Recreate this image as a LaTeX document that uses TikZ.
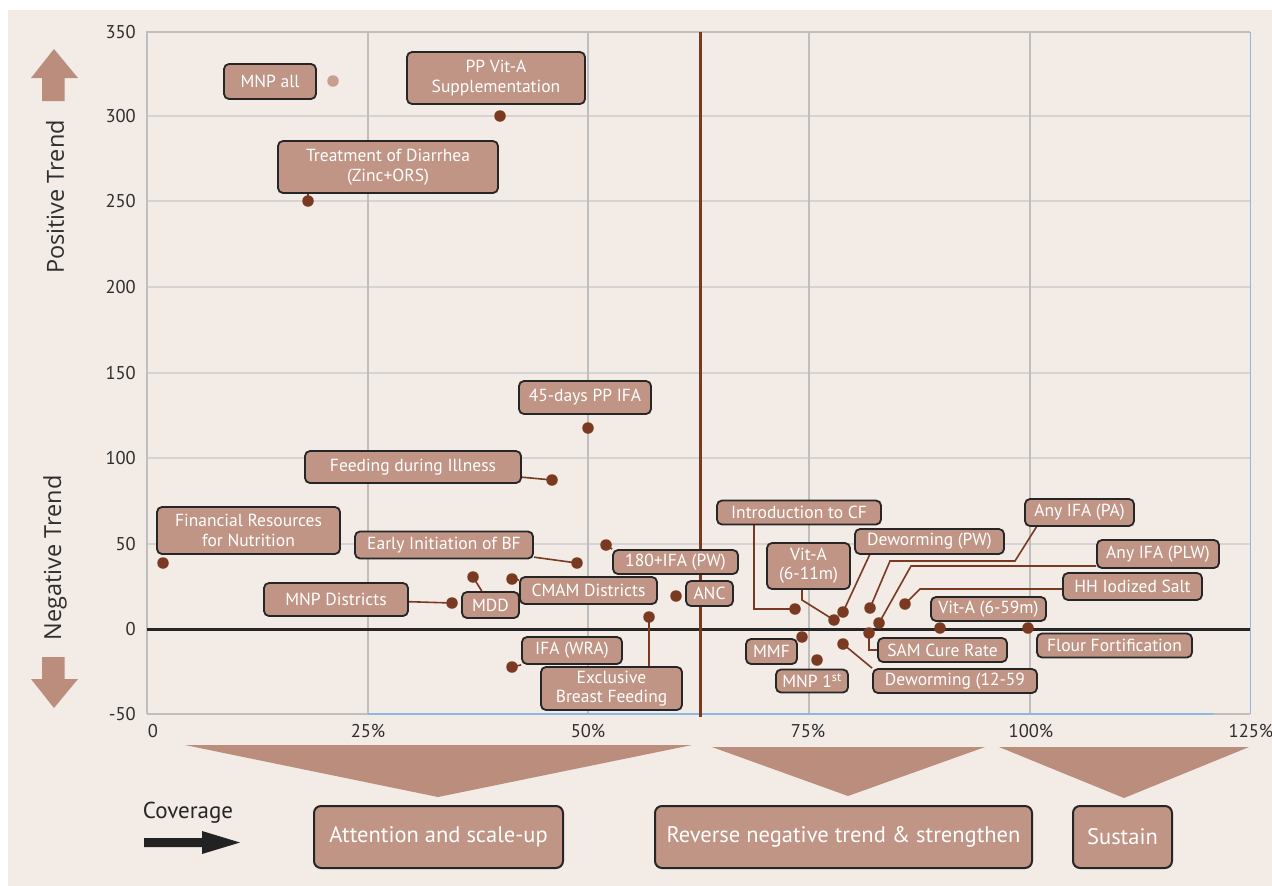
\documentclass[tikz,border=0pt]{standalone}
\usepackage{fontspec}
\setmainfont{PT Sans}
\newfontfamily\axisfont{Open Sans}
\pgfdeclarelayer{back}
\pgfdeclarelayer{conn}
\pgfsetlayers{back,conn,main}
\definecolor{bgbeige}{HTML}{F2EBE6}
\definecolor{boxfill}{HTML}{C09585}
\definecolor{shapec}{HTML}{BB8D7C}
\definecolor{dotc}{HTML}{7A3A22}
\definecolor{dotlight}{HTML}{C79E8F}
\definecolor{gridv}{HTML}{BEBEBE}
\definecolor{gridh}{HTML}{D4D4D4}
\definecolor{frameblue}{HTML}{8DB8E2}
\definecolor{ink}{HTML}{262626}
\definecolor{tickc}{HTML}{2E2E2E}
\begin{document}
\begin{tikzpicture}[x=1pt,y=-1pt,
  lbl/.style={draw=ink, line width=1.8pt, fill=boxfill, rounded corners=5pt,
    text=white, font=\fontsize{17.5}{20.5}\selectfont, inner sep=0pt, align=center},
  wh/.style 2 args={minimum width=#1pt, minimum height=#2pt},
  bigbox/.style={draw=ink, line width=2pt, fill=boxfill, rounded corners=7pt,
    text=white, font=\fontsize{22.5}{26}\selectfont, inner sep=0pt, minimum height=62pt},
  pt/.style={circle, fill=dotc, inner sep=0pt, minimum size=11.5pt},
  ptl/.style={circle, fill=dotlight, inner sep=0pt, minimum size=11.5pt},
  conn/.style={draw=dotc, line width=1.6pt},
  ytick/.style={anchor=east, text=tickc, font=\fontsize{18.5}{20}\selectfont, inner sep=0pt},
  xtick/.style={text=tickc, font=\fontsize{18.5}{20}\selectfont, inner sep=0pt},
  axtitle/.style={text=tickc, font=\axisfont\fontsize{23.5}{26}\selectfont, rotate=90, inner sep=0pt}
]
\useasboundingbox (0,0) rectangle (1272,886);

% ---------- background, grid, axes ----------
\begin{pgfonlayer}{back}
\fill[white] (0,0) rectangle (1272,886);
\fill[bgbeige] (8,10) rectangle (1272,886);
% horizontal grid
\foreach \yy in {116,201,287,373,458,544}
  \draw[gridh, line width=1.4pt] (147,\yy) -- (1250,\yy);
% vertical grid
\foreach \xx in {368,588,809,1030}
  \draw[gridv, line width=1.2pt] (\xx,32) -- (\xx,714);
% frame
\draw[gridv, line width=1.2pt] (147,714) -- (147,32) -- (1250,32);
\draw[gridv, line width=1.2pt] (147,714) -- (368,714);
\draw[gridv, line width=1.2pt] (1213,714) -- (1250,714);
\draw[frameblue, line width=1.1pt] (368,714) -- (1213,714);
\draw[frameblue, line width=0.9pt] (1250,32) -- (1250,714);
% zero line
\draw[ink, line width=3pt] (147,629) -- (1250,629);
% divider
\draw[dotc, line width=3pt] (700,32) -- (700,717);
% side arrows
\fill[shapec] (54,49) -- (78,78) -- (64.5,78) -- (64.5,101) -- (42,101) -- (42,78) -- (31,78) -- cycle;
\fill[shapec] (42,657) -- (64.5,657) -- (64.5,679) -- (78,679) -- (54,708) -- (31,679) -- (42,679) -- cycle;
% coverage arrow
\fill[ink!90!black] (144,838) -- (202,838) -- (202,831) -- (240,842.5) -- (202,854) -- (202,847) -- (144,847) -- cycle;
% funnels
\fill[shapec] (185,745) -- (692,745) -- (438,797) -- cycle;
\fill[shapec] (712,747) -- (985,747) -- (848,796) -- cycle;
\fill[shapec] (999,747) -- (1249,747) -- (1124,798) -- cycle;
\end{pgfonlayer}

% ---------- axis labels ----------
\node[ytick] (y350) at (136,32) {350};
\node[ytick] (y300) at (136,116) {300};
\node[ytick] (y250) at (136,201) {250};
\node[ytick] (y200) at (136,287) {200};
\node[ytick] (y150) at (136,373) {150};
\node[ytick] (y100) at (136,458) {100};
\node[ytick] (y50)  at (136,544) {50};
\node[ytick] (y0)   at (136,629) {0};
\node[ytick] (ym50) at (136,714) {-50};
\node[xtick] (x0)   at (153,731) {0};
\node[xtick] (x25)  at (368,731) {25\%};
\node[xtick] (x50)  at (588,731) {50\%};
\node[xtick] (x75)  at (808,731) {75\%};
\node[xtick] (x100) at (1031,731) {100\%};
\node[xtick] (x125) at (1251,731) {125\%};
\node[axtitle] (postrend) at (55,197) {Positive Trend};
\node[axtitle] (negtrend) at (55,558) {Negative Trend};
\node[text=ink, font=\fontsize{23}{26}\selectfont, inner sep=0pt] (coverage) at (188,813) {Coverage};

% ---------- bottom boxes ----------
\node[bigbox, minimum width=249pt] (attn) at (438.5,837) {Attention and scale-up};
\node[bigbox, minimum width=377pt] (revn) at (843.5,837) {Reverse negative trend \& strengthen};
\node[bigbox, minimum width=99pt] (sust) at (1122.5,837) {Sustain};

% ---------- data points ----------
\node[ptl] (pMNPall) at (333,81) {};
\node[pt] (pPPVA) at (500,116) {};
\node[pt] (pTD) at (308,201) {};
\node[pt] (p45) at (588,428) {};
\node[pt] (pFDI) at (552,480) {};
\node[pt] (pFRN) at (163,563) {};
\node[pt] (pEIBF) at (577,563) {};
\node[pt] (p180) at (606,545) {};
\node[pt] (pMDD) at (473,577) {};
\node[pt] (pMNPD) at (452,603) {};
\node[pt] (pCMAM) at (512,579) {};
\node[pt] (pANC) at (676,596) {};
\node[pt] (pEBF) at (649,617) {};
\node[pt] (pWRA) at (512,667) {};
\node[pt] (pICF) at (795,609) {};
\node[pt] (pV611) at (834,620) {};
\node[pt] (pDPW) at (843,612) {};
\node[pt] (pPA) at (870,608) {};
\node[pt] (pPLW) at (879,623) {};
\node[pt] (pHH) at (905,604) {};
\node[pt] (pV659) at (940,628) {};
\node[pt] (pFF) at (1028,628) {};
\node[pt] (pSAM) at (869,633) {};
\node[pt] (pMMF) at (802,637) {};
\node[pt] (pMNP1) at (817,660) {};
\node[pt] (pD1259) at (843,644) {};

% ---------- labels ----------
\node[lbl, wh={92}{35}] (lMNPall) at (270,81.5) {MNP all};
\node[lbl, wh={178}{52}] (lPPVA) at (496,78) {PP Vit-A\\Supplementation};
\node[lbl, wh={220}{52}] (lTD) at (388,167) {Treatment of Diarrhea\\(Zinc+ORS)};
\node[lbl, wh={132}{33}] (l45) at (585,397.5) {45-days PP IFA};
\node[lbl, wh={216}{32}] (lFDI) at (413,467) {Feeding during Illness};
\node[lbl, wh={183}{47}] (lFRN) at (248.5,530.5) {Financial Resources\\for Nutrition};
\node[lbl, wh={178}{27}] (lEIBF) at (444,545) {Early Initiation of BF};
\node[lbl, wh={125}{24}] (l180) at (675.5,562) {180+IFA (PW)};
\node[lbl, wh={57}{26}] (lMDD) at (490.5,605) {MDD};
\node[lbl, wh={144}{33}] (lMNPD) at (336,599.5) {MNP Districts};
\node[lbl, wh={137}{27}] (lCMAM) at (588.5,590.5) {CMAM Districts};
\node[lbl, wh={47}{25}] (lANC) at (709.5,593.5) {ANC};
\node[lbl, wh={141}{43}, font=\fontsize{17.5}{19}\selectfont] (lEBF) at (611.5,688.5) {Exclusive\\Breast Feeding};
\node[lbl, wh={100}{27}] (lWRA) at (572,650.5) {IFA (WRA)};
\node[lbl, wh={164}{24}] (lICF) at (799,512.5) {Introduction to CF};
\node[lbl, wh={83}{46}, font=\fontsize{17.5}{19}\selectfont] (lV611) at (808.5,566) {Vit-A\\(6-11m)};
\node[lbl, wh={149}{25}] (lDPW) at (929.5,541.5) {Deworming (PW)};
\node[lbl, wh={109}{27}] (lPA) at (1079.5,512.5) {Any IFA (PA)};
\node[lbl, wh={122}{28}] (lPLW) at (1158,554) {Any IFA (PLW)};
\node[lbl, wh={139}{27}] (lHH) at (1132.5,586.5) {HH Iodized Salt};
\node[lbl, wh={115}{24}] (lV659) at (988.5,609) {Vit-A (6-59m)};
\node[lbl, wh={155}{24}] (lFF) at (1114.5,645.5) {Flour Fortification};
\node[lbl, wh={129}{24}] (lSAM) at (942.5,650) {SAM Cure Rate};
\node[lbl, wh={51}{25}] (lMMF) at (771.5,651.5) {MMF};
\node[lbl, wh={72}{23}] (lMNP1) at (812,681) {MNP 1\textsuperscript{st}};
\node[lbl, wh={164}{24}] (lD1259) at (955,681) {Deworming (12-59};

% ---------- bend coordinates ----------
\coordinate (kICF) at (754,609);
\coordinate (kV611) at (802,600);
\coordinate (kDPW) at (870,554);
\coordinate (kPA1) at (890,561);
\coordinate (kPA2) at (1015,561);
\coordinate (kPA3) at (1037,526);
\coordinate (kPLW) at (911,566);
\coordinate (kHH) at (920,589);

% ---------- connectors ----------
\begin{pgfonlayer}{conn}
\draw[conn] (pTD.center) -- (pTD |- lTD.south);
\draw[conn] (pFDI.center) -- (lFDI);
\draw[conn] (pEIBF.center) -- (lEIBF);
\draw[conn] (p180.center) -- (l180.north west);
\draw[conn] (pMDD.center) -- (lMDD);
\draw[conn] (pMNPD.center) -- (lMNPD);
\draw[conn] (pCMAM.center) -- (lCMAM);
\draw[conn] (pEBF.center) -- (pEBF |- lEBF.north);
\draw[conn] (pWRA.center) -- (lWRA.south west);
\draw[conn] (pICF.center) -- (kICF) -- (kICF |- lICF.south);
\draw[conn] (pV611.center) -- (kV611) -- (kV611 |- lV611.south);
\draw[conn] (pDPW.center) -- (kDPW);
\draw[conn] (pPA.center) -- (kPA1) -- (kPA2) -- (kPA3);
\draw[conn] (pPLW.center) -- (kPLW) -- (kPLW -| lPLW.west);
\draw[conn] (pHH.center) -- (kHH) -- (kHH -| lHH.west);
\draw[conn] (pSAM.center) |- (lSAM.west);
\draw[conn] (pD1259.center) -- (lD1259.north west);
\end{pgfonlayer}
\end{tikzpicture}
\end{document}
